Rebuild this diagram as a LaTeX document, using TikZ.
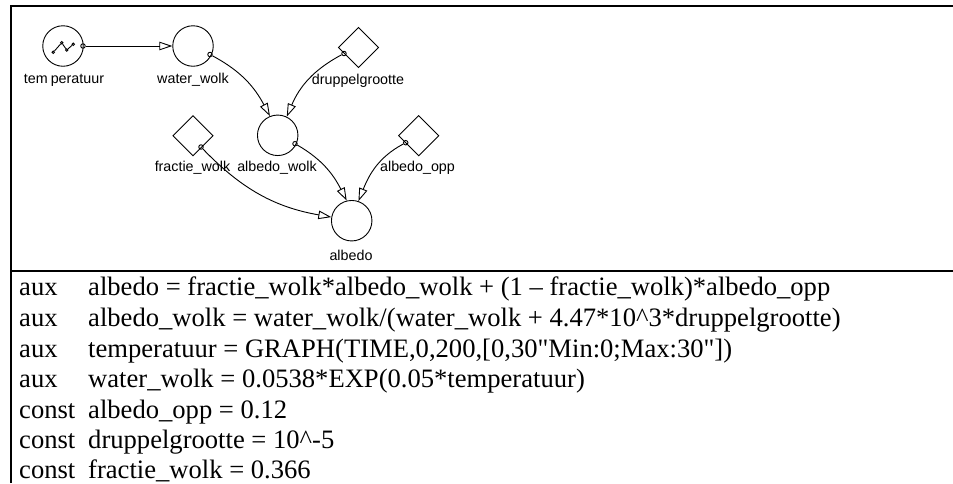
\documentclass[tikz,border=0pt]{standalone}
\usepackage{fontspec}
\newfontfamily\eqnfont{Liberation Serif}
\newfontfamily\labelfont{Liberation Sans}
\usepackage{tikz}
\usetikzlibrary{shapes.geometric, arrows.meta, positioning}
\tikzset{
  conv/.style={circle, draw=black, inner sep=0pt, minimum size=40.5pt, line width=0.9pt},
  constant/.style={diamond, aspect=1, draw=black, inner sep=0pt, minimum size=40.5pt, line width=0.9pt},
  port/.style={circle, draw=black, inner sep=0pt, minimum size=4.5pt, line width=0.9pt},
  lbl/.style={font=\labelfont\fontsize{14.3}{16}\selectfont, inner sep=0pt},
  arr/.style={-{Triangle[open, length=13pt, width=8.5pt]}, line width=0.9pt},
  eqn/.style={font=\eqnfont\fontsize{26.6}{30}\selectfont, anchor=base west, inner sep=0pt},
  frame/.style={line width=2pt},
}
\begin{document}
\begin{tikzpicture}[x=1pt, y=-1pt]
  \useasboundingbox (0,0) rectangle (953,483);
  % frame
  \coordinate (tl) at (11,6);
  \coordinate (tr) at (953,6);
  \coordinate (bl) at (11,483);
  \coordinate (ml) at (11,271);
  \coordinate (mr) at (953,271);
  \draw[frame] (bl)--(tl)--(tr);
  \draw[frame] (ml)--(mr);
  % model
  \node[conv]     (temp)   at (63,46)   {};
  \node[conv]     (water)  at (193,46)  {};
  \node[constant] (drup)   at (358.5,47.5) {};
  \node[conv]     (awolk)  at (277.7,135.3) {};
  \node[constant] (fractie) at (193,135.7) {};
  \node[constant] (aopp)   at (418.7,135.7) {};
  \node[conv]     (albedo) at (351.7,220.7) {};
  \node[lbl] at (64,80)   (ltemp)  {tem\kern3pt peratuur};
  \node[lbl] at (193,80)  (lwater) {water\_wolk};
  \node[lbl] at (358,81)  (ldrup)  {druppelgrootte};
  \node[lbl] at (277,168) (lawolk) {albedo\_wolk};
  \node[lbl] at (192.5,168) (lfractie) {fractie\_wolk};
  \node[lbl] at (417.5,168) (laopp)  {albedo\_opp};
  \node[lbl] at (351,255) (lalbedo) {albedo};
  \node[port] (ptemp)  at (83,46)   {};
  \node[port] (pwater) at (210,54.5)  {};
  \node[port] (pdrup)  at (344,53.5)  {};
  \node[port] (pawolk) at (295,143.7) {};
  \node[port] (pfractie) at (201,147) {};
  \node[port] (paopp)  at (405.7,142.7) {};
  \draw[arr] (ptemp)--(water);
  \draw[arr] (pwater) to[out=-28,in=118] (awolk.112);
  \draw[arr] (pdrup) to[out=208,in=67] (awolk.64);
  \draw[arr] (pawolk) to[out=-30,in=117] (albedo.104);
  \draw[arr] (paopp) to[out=208,in=68] (albedo.71);
  \draw[arr] (pfractie) to[out=-46,in=170] (albedo.170);
  % sketch inside the graph symbol
  \foreach \a/\b [count=\i] in {53.3/52.3, 61.7/42.7, 66.7/50, 73.3/44.3}{
    \node[port, minimum size=2.5pt] (g\i) at (\a,\b) {};
  }
  \draw[line width=0.9pt] (g1)--(g2)--(g3)--(g4);
  % equations
  \node[eqn] (k1) at (19,295) {aux};
  \node[eqn] (e1) at (88,295) {albedo = fractie\_wolk*albedo\_wolk + (1 – fractie\_wolk)*albedo\_opp};
  \node[eqn] (k2) at (19,326) {aux};
  \node[eqn] (e2) at (88,326) {albedo\_wolk = water\_wolk/(water\_wolk + 4.47*10\^{}3*druppelgrootte)};
  \node[eqn] (k3) at (19,357) {aux};
  \node[eqn] (e3) at (88,357) {temperatuur = GRAPH(TIME,0,200,[0,30"Min:0;Max:30"])};
  \node[eqn] (k4) at (19,387) {aux};
  \node[eqn] (e4) at (88,387) {water\_wolk = 0.0538*EXP(0.05*temperatuur)};
  \node[eqn] (k5) at (19,418) {const};
  \node[eqn] (e5) at (88,418) {albedo\_opp = 0.12};
  \node[eqn] (k6) at (19,448) {const};
  \node[eqn] (e6) at (88,448) {druppelgrootte = 10\^{}-5};
  \node[eqn] (k7) at (19,478) {const};
  \node[eqn] (e7) at (88,478) {fractie\_wolk = 0.366};
\end{tikzpicture}
\end{document}
